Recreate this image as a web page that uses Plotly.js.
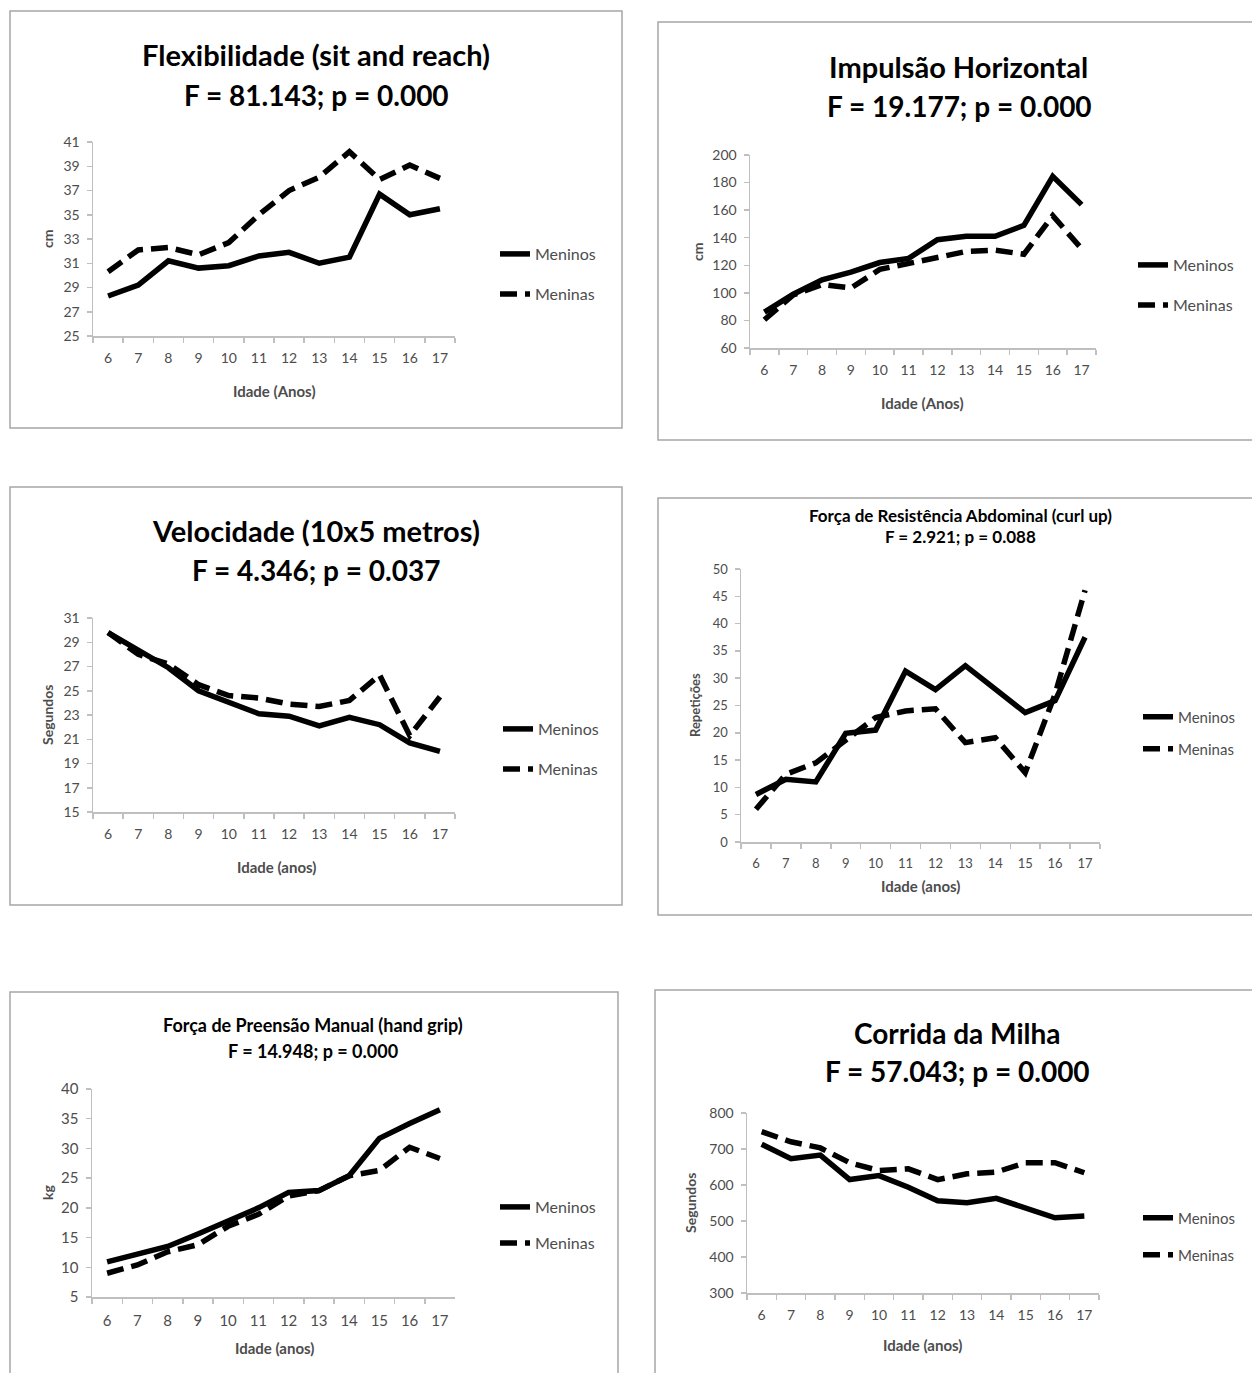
<!DOCTYPE html>
<html><head><meta charset="utf-8">
<script src="https://cdn.plot.ly/plotly-3.0.1.min.js"></script>
<style>html,body{margin:0;padding:0;background:#fff}</style>
</head><body><div id="chart" style="width:1252px;height:1373px"></div>
<script>
// ---------- DATA ----------
const ages = ['6','7','8','9','10','11','12','13','14','15','16','17'];
const seriesNames = ['Meninos', 'Meninas'];

const flexMeninos = [28.3, 29.2, 31.2, 30.6, 30.8, 31.6, 31.9, 31.0, 31.5, 36.7, 35.0, 35.5];
const flexMeninas = [30.3, 32.1, 32.3, 31.7, 32.7, 35.0, 37.0, 38.1, 40.2, 37.9, 39.1, 38.0];

const impMeninos = [86, 99, 109.5, 115, 122, 125, 138.5, 141, 141, 149, 184.5, 164];
const impMeninas = [80.5, 98.5, 106, 103.5, 117, 121.5, 125, 130, 131, 128, 156, 132];

const velMeninos = [29.8, 28.4, 26.9, 25.0, 24.0, 23.1, 22.9, 22.1, 22.8, 22.2, 20.7, 20.0];
const velMeninas = [29.8, 28.0, 27.2, 25.5, 24.6, 24.4, 23.9, 23.7, 24.2, 26.3, 21.3, 24.5];

const curlMeninos = [8.7, 11.5, 11.0, 19.9, 20.5, 31.3, 27.9, 32.3, 28.0, 23.7, 25.9, 37.5];
const curlMeninas = [6.0, 12.4, 14.5, 18.5, 22.8, 24.0, 24.4, 18.2, 19.1, 12.7, 27.1, 46.1];

const gripMeninos = [10.9, 12.1, 13.5, 15.6, 17.8, 20.0, 22.6, 22.9, 25.4, 31.7, 34.2, 36.5];
const gripMeninas = [9.0, 10.4, 12.6, 13.8, 16.9, 18.9, 22.0, 22.9, 25.4, 26.3, 30.2, 28.3];

const milhaMeninos = [713, 673, 683, 615, 626, 594, 556, 551, 563, 535, 509, 514];
const milhaMeninas = [748, 720, 703, 662, 640, 645, 615, 631, 636, 662, 662, 634];

const titles = [
  ['Flexibilidade (sit and reach)', 'F = 81.143; p = 0.000'],
  ['Impulsão Horizontal', 'F = 19.177; p = 0.000'],
  ['Velocidade (10x5 metros)', 'F = 4.346; p = 0.037'],
  ['Força de Resistência Abdominal (curl up)', 'F = 2.921; p = 0.088'],
  ['Força de Preensão Manual (hand grip)', 'F = 14.948; p = 0.000'],
  ['Corrida da Milha', 'F = 57.043; p = 0.000']
];
const yTitles = ['cm', 'cm', 'Segundos', 'Repetições', 'kg', 'Segundos'];
const xTitles = ['Idade (Anos)', 'Idade (Anos)', 'Idade (anos)', 'Idade (anos)', 'Idade (anos)', 'Idade (anos)'];
const yRanges = [[25, 41], [60, 200], [15, 31], [0, 50], [5, 40], [300, 800]];
const yDticks = [2, 20, 2, 5, 5, 100];

const panelData = [
  [flexMeninos, flexMeninas],
  [impMeninos, impMeninas],
  [velMeninos, velMeninas],
  [curlMeninos, curlMeninas],
  [gripMeninos, gripMeninas],
  [milhaMeninos, milhaMeninas]
];

// ---------- LAYOUT GEOMETRY (pixels) ----------
const W = 1252, H = 1373;
const px = x => x / W;
const py = y => 1 - y / H;

const geo = [
  {box:[10,11,622,428],  plot:[93,142,455,336],   t1:[316,55,29], t2:[316,95,28],  yt:[47,239], xt:[274,391], leg:[495,254,294], lf:16, tf:14, ys:14},
  {box:[658,22,1262,440], plot:[750,155,1096,348], t1:[958,66,29], t2:[959,106,28], yt:[697,252], xt:[922,403], leg:[1133,265,305], lf:16, tf:14, ys:14},
  {box:[10,487,622,905], plot:[93,618,455,812],   t1:[316,530,29], t2:[316,570,28], yt:[47,715], xt:[276,867], leg:[498,729,769], lf:16, tf:14, ys:14},
  {box:[658,498,1262,915], plot:[741,569,1100,842], t1:[960,515,17], t2:[960,537,17], yt:[695,705], xt:[920,886], leg:[1138,717,749], lf:15, tf:13, ys:13},
  {box:[10,992,618,1385], plot:[92,1089,455,1297], t1:[313,1025,18], t2:[313,1051,18], yt:[47,1193], xt:[274,1348], leg:[495,1207,1243], lf:16, tf:15, ys:14},
  {box:[655,990,1262,1385], plot:[747,1113,1099,1293], t1:[957,1033,28], t2:[957,1071,28], yt:[690,1203], xt:[922,1345], leg:[1138,1218,1255], lf:15, tf:14, ys:14}
];

const FONT = 'Lato, "Open Sans", sans-serif';
const GRAY = '#bfbfbf';
const TXT = '#4d4d4d';

const traces = [];
const layout = {
  width: W, height: H,
  margin: {l:0, r:0, t:0, b:0},
  paper_bgcolor: '#fff', plot_bgcolor: 'rgba(0,0,0,0)',
  font: {family: FONT, color: TXT},
  shapes: [], annotations: []
};

geo.forEach((g, i) => {
  const n = i + 1;
  const xa = 'xaxis' + (n === 1 ? '' : n);
  const ya = 'yaxis' + (n === 1 ? '' : n);
  const xr = 'x' + (n === 1 ? '' : n);
  const yr = 'y' + (n === 1 ? '' : n);

  layout[xa] = {
    domain: [px(g.plot[0]), px(g.plot[2])],
    anchor: yr, type: 'category', range: [-0.5, 11.5],
    showline: true, linecolor: GRAY, linewidth: 1.5,
    ticks: 'outside', tickson: 'boundaries', ticklen: 5, tickcolor: GRAY, tickwidth: 1.5,
    showgrid: false, zeroline: false, fixedrange: true,
    tickfont: {family: FONT, size: g.tf, color: TXT},
    ticklabelstandoff: 9
  };
  layout[ya] = {
    domain: [py(g.plot[3]), py(g.plot[1])],
    anchor: xr, range: yRanges[i], dtick: yDticks[i], tick0: yRanges[i][0],
    showline: true, linecolor: GRAY, linewidth: 1.5,
    ticks: 'outside', ticklen: 5, tickcolor: GRAY, tickwidth: 1.5,
    showgrid: false, zeroline: false, fixedrange: true,
    tickfont: {family: FONT, size: g.tf, color: TXT},
    ticklabelstandoff: 4
  };

  panelData[i].forEach((vals, s) => {
    const legName = 'legend' + (i * 2 + s === 0 ? '' : (i * 2 + s + 1));
    traces.push({
      type: 'scatter', mode: 'lines',
      x: ages, y: vals, name: seriesNames[s],
      xaxis: xr, yaxis: yr,
      line: {color: '#000', width: 5.5, dash: s === 0 ? 'solid' : '17px,8px'},
      legend: legName, showlegend: true, hoverinfo: 'skip'
    });
    layout[legName] = {
      x: px(g.leg[0]), y: py(g.leg[1 + s]), xanchor: 'left', yanchor: 'middle',
      bgcolor: 'rgba(0,0,0,0)', borderwidth: 0,
      font: {family: FONT, size: g.lf, color: TXT},
      itemclick: false, itemdoubleclick: false
    };
  });

  // panel frame
  layout.shapes.push({
    type: 'rect', xref: 'paper', yref: 'paper',
    x0: px(g.box[0]), x1: px(g.box[2]), y0: py(g.box[3]), y1: py(g.box[1]),
    line: {color: '#a6a6a6', width: 1.5}, fillcolor: 'rgba(0,0,0,0)', layer: 'below'
  });

  // titles
  [g.t1, g.t2].forEach((t, k) => {
    layout.annotations.push({
      xref: 'paper', yref: 'paper', x: px(t[0]), y: py(t[1]),
      xanchor: 'center', yanchor: 'middle', showarrow: false,
      text: '<b>' + titles[i][k] + '</b>',
      font: {family: FONT, size: t[2], color: '#000'}
    });
  });
  // axis titles
  layout.annotations.push({
    xref: 'paper', yref: 'paper', x: px(g.yt[0]), y: py(g.yt[1]),
    xanchor: 'center', yanchor: 'middle', showarrow: false, textangle: -90,
    text: '<b>' + yTitles[i] + '</b>',
    font: {family: FONT, size: g.ys, color: TXT}
  });
  layout.annotations.push({
    xref: 'paper', yref: 'paper', x: px(g.xt[0]), y: py(g.xt[1]),
    xanchor: 'center', yanchor: 'middle', showarrow: false,
    text: '<b>' + xTitles[i] + '</b>',
    font: {family: FONT, size: 15, color: TXT}
  });
});

Plotly.newPlot('chart', traces, layout, {staticPlot: true, displayModeBar: false});
</script>
</body></html>
